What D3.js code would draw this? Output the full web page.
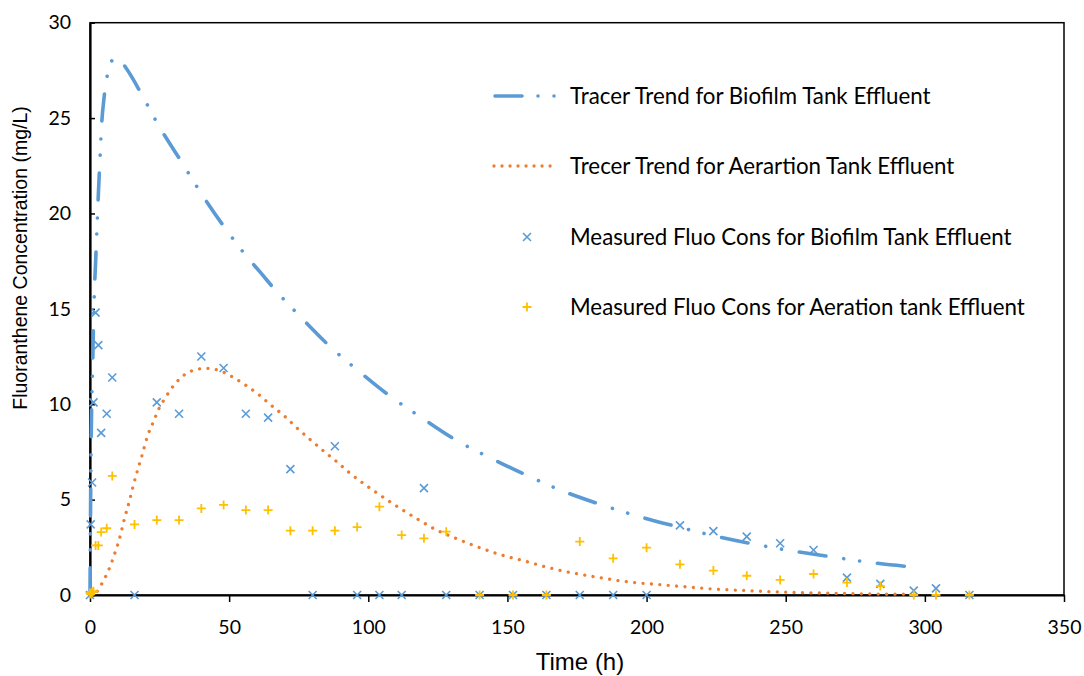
<!DOCTYPE html>
<html>
<head>
<meta charset="utf-8">
<script src="https://cdn.jsdelivr.net/npm/d3@7"></script>
<style>
  body { margin: 0; background: #fff; }
</style>
</head>
<body>
<div id="container"></div>
<script>
// measured points, sampling times (h)
const times = [0, 0.25, 0.75, 1.25, 2, 3, 4, 6, 8, 16, 24, 32, 40, 48, 56, 64, 72, 80, 88, 96,
  104, 112, 120, 128, 140, 152, 164, 176, 188, 200, 212, 224, 236, 248, 260, 272, 284, 296, 304, 316];
const biofilmMeasured = [0, 3.7, 5.9, 10.1, 14.8, 13.1, 8.5, 9.5, 11.4, 0, 10.1, 9.5, 12.5, 11.9, 9.5, 9.3, 6.6, 0, 7.8, 0,
  0, 0, 5.6, 0, 0, 0, 0, 0, 0, 0, 3.65, 3.35, 3.06, 2.71, 2.36, 0.91, 0.58, 0.23, 0.35, 0];
const aerationMeasured = [0.1, 0.05, 0.15, 0.2, 2.6, 2.6, 3.3, 3.5, 6.24, 3.7, 3.93, 3.93, 4.54, 4.72, 4.45, 4.45, 3.37, 3.37, 3.37, 3.56,
  4.63, 3.14, 2.97, 3.32, 0, 0, 0, 2.8, 1.92, 2.48, 1.61, 1.28, 1.01, 0.79, 1.1, 0.65, 0.47, 0, 0, 0];

// tracer trend curves
const biofilmTrendT = [0, 0.15, 0.35, 0.6, 0.9, 1.2, 1.55, 2, 2.5, 3, 3.6, 4.2, 5, 6.3, 7.5, 9, 11, 13.2, 18.5, 24.3,
  32.9, 39.3, 48.8, 56, 61, 66.8, 75, 86.6, 95.8, 108.6, 118.6, 132.6, 143, 158, 169, 184.8, 196.2, 213.2, 224,
  240.2, 252, 268.3, 280.3, 296.8];
const biofilmTrendY = [0, 3.5, 7.2, 9.9, 11.6, 13.8, 15.8, 17.4, 19.2, 21.0, 22.9, 24.7, 26.0, 27.3, 27.9, 28.16, 28.0, 27.57, 26.26, 24.7,
  22.7, 21.2, 19.18, 17.8, 16.95, 15.95, 14.68, 12.98, 11.83, 10.34, 9.35, 8.03, 7.25, 6.2, 5.5, 4.68, 4.16, 3.5, 3.11,
  2.62, 2.32, 1.96, 1.71, 1.45];
const aerationTrendT = [0, 2.4, 4.2, 5.6, 6.9, 9, 10.8, 12.3, 14, 15.5, 17.1, 18.9, 20.6, 22.8, 24.8, 26.9, 30.5, 34.7, 38.7, 41.6,
  46.7, 50.5, 55.3, 60.5, 65, 69.7, 74.5, 79, 83.8, 88.6, 93.2, 103, 110.8, 118.6, 124.6, 130, 138.4, 147.1, 155.7,
  164.9, 174, 183.3, 192.6, 201.5, 210.8, 220.4, 236, 251.5, 267, 282.6, 295];
const aerationTrendY = [0, 0.17, 0.58, 0.96, 1.38, 2.22, 3.06, 3.96, 4.84, 5.71, 6.55, 7.42, 8.3, 9.08, 9.78, 10.3, 11.06, 11.62, 11.83, 11.88,
  11.76, 11.49, 11.06, 10.52, 9.96, 9.4, 8.74, 8.16, 7.56, 6.99, 6.41, 5.36, 4.6, 3.9, 3.4, 3.06, 2.57, 2.13, 1.8,
  1.43, 1.14, 0.91, 0.7, 0.58, 0.47, 0.35, 0.23, 0.14, 0.09, 0.05, 0.04];

const xTicks = [0, 50, 100, 150, 200, 250, 300, 350];
const yTicks = [0, 5, 10, 15, 20, 25, 30];
const legendNames = ["Tracer Trend for Biofilm Tank Effluent", "Trecer Trend for Aerartion Tank Effluent",
  "Measured Fluo Cons for Biofilm Tank Effluent", "Measured Fluo Cons for Aeration tank Effluent"];

const blue = "#5B9BD5", orange = "#ED7D31", yellow = "#FFC000";
const calibri = "Lato, 'Open Sans', sans-serif";
const arial = "'Liberation Sans', Arial, sans-serif";
const arialN = "'Liberation Sans Narrow', 'Liberation Sans', Arial, sans-serif";

let viz = d3.select("#container")
  .append("svg")
    .attr("width", 1084)
    .attr("height", 676);

let x = d3.scaleLinear().domain([0, 350]).range([90, 1064]);
let y = d3.scaleLinear().domain([0, 30]).range([595, 22.7]);

// frame
viz.append("rect")
    .attr("x", 90).attr("y", 22.7)
    .attr("width", 974).attr("height", 572.3)
    .attr("fill", "none")
    .attr("stroke", "black")
    .attr("stroke-width", 1.5);

// axes
let xAxis = viz.append("g")
    .attr("transform", "translate(0,595)")
    .call(d3.axisBottom(x).tickValues(xTicks).tickSizeInner(7).tickSizeOuter(0).tickPadding(18));
let yAxis = viz.append("g")
    .attr("transform", "translate(90,0)")
    .call(d3.axisLeft(y).tickValues(yTicks).tickSizeInner(-5).tickSizeOuter(0).tickPadding(19));

[xAxis, yAxis].forEach(a => {
  a.select(".domain").attr("stroke", "black").attr("stroke-width", 2.2);
  a.selectAll(".tick line").attr("stroke", "black").attr("stroke-width", 1.5);
  a.selectAll(".tick text")
    .attr("font-family", calibri)
    .attr("font-size", 19.5)
    .attr("fill", "#000");
});

// trend lines
let line = d3.line()
    .x(d => x(d[0]))
    .y(d => y(d[1]))
    .curve(d3.curveMonotoneX);

viz.append("path")
    .datum(aerationTrendT.map((t, i) => [t, aerationTrendY[i]]))
    .attr("d", line)
    .attr("fill", "none")
    .attr("stroke", orange)
    .attr("stroke-width", 3.3)
    .attr("stroke-linecap", "round")
    .attr("stroke-dasharray", "0.01,8.4");

viz.append("path")
    .datum(biofilmTrendT.map((t, i) => [t, biofilmTrendY[i]]))
    .attr("d", line)
    .attr("fill", "none")
    .attr("stroke", blue)
    .attr("stroke-width", 3.6)
    .attr("stroke-linecap", "round")
    .attr("stroke-dasharray", "27,18,0.01,16,0.01,18");

// measured points
function cross(g, cx, cy, s) {
  g.append("path")
    .attr("d", `M${cx - s},${cy - s}L${cx + s},${cy + s}M${cx - s},${cy + s}L${cx + s},${cy - s}`)
    .attr("stroke", blue).attr("stroke-width", 1.6).attr("fill", "none");
}
function plus(g, cx, cy, s) {
  g.append("path")
    .attr("d", `M${cx - s},${cy}L${cx + s},${cy}M${cx},${cy - s}L${cx},${cy + s}`)
    .attr("stroke", yellow).attr("stroke-width", 1.8).attr("fill", "none");
}

let pts = viz.append("g");
times.forEach((t, i) => cross(pts, x(t), y(biofilmMeasured[i]), 4));
times.forEach((t, i) => plus(pts, x(t), y(aerationMeasured[i]), 4.5));

// legend
let legY = [96, 166, 237, 307];
viz.append("line")
    .attr("x1", 495).attr("x2", 555)
    .attr("y1", legY[0]).attr("y2", legY[0])
    .attr("stroke", blue).attr("stroke-width", 3.6)
    .attr("stroke-linecap", "round")
    .attr("stroke-dasharray", "27,16,0.01,16,0.01,30");
viz.append("line")
    .attr("x1", 494).attr("x2", 558)
    .attr("y1", legY[1]).attr("y2", legY[1])
    .attr("stroke", orange).attr("stroke-width", 3.3)
    .attr("stroke-linecap", "round")
    .attr("stroke-dasharray", "0.01,8");
cross(viz, 527, legY[2], 4);
plus(viz, 527, legY[3], 4.5);

legendNames.forEach((name, i) => {
  viz.append("text")
    .text(name)
    .attr("x", 570)
    .attr("y", legY[i])
    .attr("dy", "0.35em")
    .attr("font-family", calibri)
    .attr("font-size", 22.3)
    .attr("fill", "#000");
});

// axis titles
viz.append("text")
    .text("Time (h)")
    .attr("x", 580)
    .attr("y", 670)
    .attr("text-anchor", "middle")
    .attr("font-family", arialN)
    .attr("font-size", 24)
    .attr("fill", "#000");

viz.append("text")
    .text("Fluoranthene Concentration (mg/L)")
    .attr("transform", "translate(27,258) rotate(-90)")
    .attr("text-anchor", "middle")
    .attr("font-family", arial)
    .attr("font-size", 19.5)
    .attr("fill", "#000");
</script>
</body>
</html>
